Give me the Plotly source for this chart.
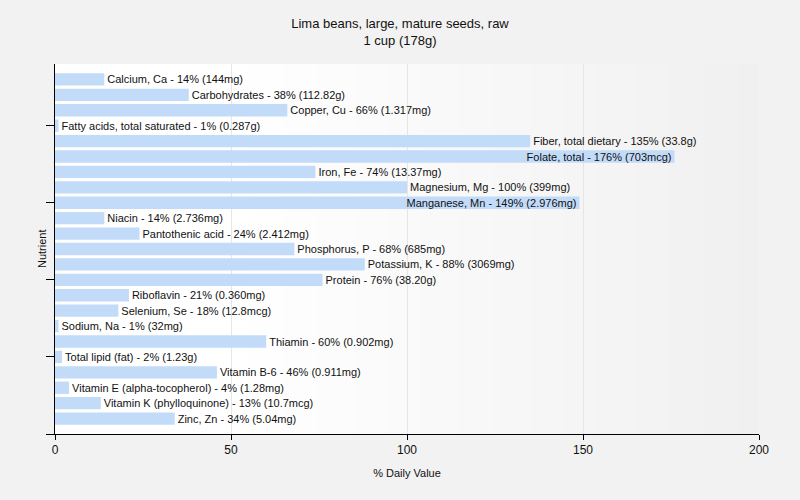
import base64, struct, zlib
import plotly.graph_objects as go

nutrients = [
    "Calcium, Ca", "Carbohydrates", "Copper, Cu", "Fatty acids, total saturated",
    "Fiber, total dietary", "Folate, total", "Iron, Fe", "Magnesium, Mg",
    "Manganese, Mn", "Niacin", "Pantothenic acid", "Phosphorus, P",
    "Potassium, K", "Protein", "Riboflavin", "Selenium, Se", "Sodium, Na",
    "Thiamin", "Total lipid (fat)", "Vitamin B-6", "Vitamin E (alpha-tocopherol)",
    "Vitamin K (phylloquinone)", "Zinc, Zn",
]
daily_value_pct = [14, 38, 66, 1, 135, 176, 74, 100, 149, 14, 24, 68, 88, 76,
                   21, 18, 1, 60, 2, 46, 4, 13, 34]
amounts = ["144mg", "112.82g", "1.317mg", "0.287g", "33.8g", "703mcg", "13.37mg",
           "399mg", "2.976mg", "2.736mg", "2.412mg", "685mg", "3069mg", "38.20g",
           "0.360mg", "12.8mcg", "32mg", "0.902mg", "1.23g", "0.911mg", "1.28mg",
           "10.7mcg", "5.04mg"]
x_ticks = [0, 50, 100, 150, 200]

labels = [f"{n} - {v}% ({a})" for n, v, a in zip(nutrients, daily_value_pct, amounts)]
positions = ["inside" if v > 140 else "outside" for v in daily_value_pct]
ypos = list(range(len(nutrients)))

FONT = "Liberation Sans, Arial, sans-serif"


def gradient_png(width=256):
    row = bytearray([0])
    for i in range(width):
        t = i / (width - 1)
        if t < 0.25:
            v = 255
        else:
            v = round(255 - (255 - 240) * ((t - 0.25) / 0.75))
        row += bytes([v, v, v])
    raw = bytes(row)

    def chunk(tag, data):
        c = struct.pack(">I", len(data)) + tag + data
        return c + struct.pack(">I", zlib.crc32(tag + data) & 0xffffffff)

    png = b"\x89PNG\r\n\x1a\n"
    png += chunk(b"IHDR", struct.pack(">IIBBBBB", width, 1, 8, 2, 0, 0, 0))
    png += chunk(b"IDAT", zlib.compress(raw))
    png += chunk(b"IEND", b"")
    return "data:image/png;base64," + base64.b64encode(png).decode()


fig = go.Figure(go.Bar(
    x=daily_value_pct,
    y=ypos,
    orientation="h",
    width=0.8,
    marker=dict(color="#c2dbf9", line=dict(width=0)),
    text=labels,
    textposition=positions,
    insidetextanchor="end",
    textangle=0,
    constraintext="none",
    cliponaxis=False,
    textfont=dict(family=FONT, size=11, color="#111111"),
    hovertext=nutrients,
    hoverinfo="text+x",
))

fig.update_layout(
    width=800, height=500,
    margin=dict(l=55, r=41, t=64, b=66, autoexpand=False),
    paper_bgcolor="#f2f2f2",
    plot_bgcolor="rgba(0,0,0,0)",
    showlegend=False,
    title=dict(
        text="Lima beans, large, mature seeds, raw<br>1 cup (178g)",
        x=0.5, xanchor="center", y=0.944, yanchor="top",
        font=dict(family=FONT, size=13, color="#111111"),
    ),
    images=[dict(
        source=gradient_png(), xref="paper", yref="paper", x=0, y=1,
        sizex=1, sizey=1, xanchor="left", yanchor="top",
        sizing="stretch", layer="below",
    )],
    annotations=[dict(
        text="Nutrient", xref="paper", yref="paper", x=0, y=0.5,
        xanchor="center", yanchor="middle", xshift=-13, yshift=0,
        textangle=-90, showarrow=False,
        font=dict(family=FONT, size=11, color="#111111"),
    )],
    xaxis=dict(
        range=[0, 200], tickvals=x_ticks, ticktext=[str(t) for t in x_ticks],
        showgrid=True, gridcolor="#e6e6e6", gridwidth=1, zeroline=False,
        showline=True, linecolor="#000000", linewidth=1, automargin=False,
        ticks="outside", ticklen=5, tickcolor="#000000",
        tickfont=dict(family=FONT, size=12, color="#111111"),
        title=dict(text="% Daily Value", standoff=12,
                   font=dict(family=FONT, size=11, color="#111111")),
    ),
    yaxis=dict(
        range=[23, -1], tickvals=[3, 8, 13, 18, 23], ticktext=[""] * 5,
        showgrid=False, zeroline=False, automargin=False,
        showline=True, linecolor="#000000", linewidth=1,
        ticks="outside", ticklen=8, tickcolor="#000000",
    ),
)

fig.write_html("out.html", config={"displayModeBar": False},
               post_script="document.body.style.margin='0';")
